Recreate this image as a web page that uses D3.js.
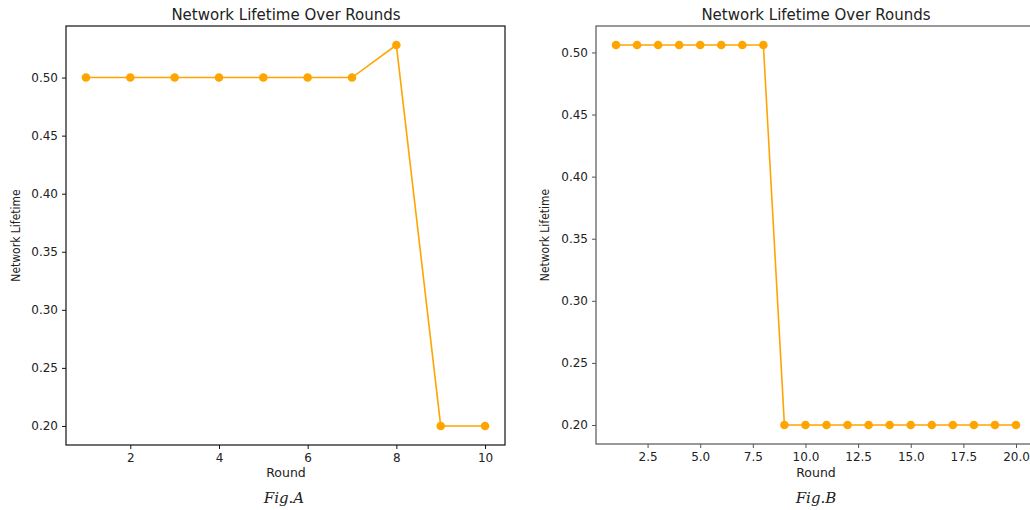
<!DOCTYPE html>
<html>
<head>
<meta charset="utf-8">
<script src="https://cdn.jsdelivr.net/npm/d3@7"></script>
<style>
  body { margin: 0; background: #fff; }
  text { font-family: "DejaVu Sans", sans-serif; fill: #222; }
</style>
</head>
<body>
<script>
// data
let roundsA = [1, 2, 3, 4, 5, 6, 7, 8, 9, 10];
let lifetimeA = [0.50, 0.50, 0.50, 0.50, 0.50, 0.50, 0.50, 0.528, 0.20, 0.20];
let roundsB = [1, 2, 3, 4, 5, 6, 7, 8, 9, 10, 11, 12, 13, 14, 15, 16, 17, 18, 19, 20];
let lifetimeB = [0.506, 0.506, 0.506, 0.506, 0.506, 0.506, 0.506, 0.506, 0.20, 0.20,
                 0.20, 0.20, 0.20, 0.20, 0.20, 0.20, 0.20, 0.20, 0.20, 0.20];
let yTicks = [0.20, 0.25, 0.30, 0.35, 0.40, 0.45, 0.50];
let xTicksA = [2, 4, 6, 8, 10];
let xTicksB = [2.5, 5.0, 7.5, 10.0, 12.5, 15.0, 17.5, 20.0];
let titles = ["Network Lifetime Over Rounds", "Network Lifetime Over Rounds"];
let captions = ["Fig.A", "Fig.B"];

var W = 1030, H = 510;
var svg = d3.select("body").append("svg").attr("width", W).attr("height", H);

// matplotlib-like 5% margins around data
let pad = (ext) => {
    let d = (ext[1] - ext[0]) * 0.05;
    return [ext[0] - d, ext[1] + d];
}

let drawPanel = (opt) => {
    let x = d3.scaleLinear().domain(pad(d3.extent(opt.xs))).range([opt.left, opt.right]);
    let y = d3.scaleLinear().domain(pad(d3.extent(opt.ys))).range([opt.bottom, opt.top]);

    let g = svg.append("g");

    // axes
    let xAxis = g.append("g").attr("transform", "translate(0," + opt.bottom + ")")
        .call(d3.axisBottom(x).tickValues(opt.xTicks).tickFormat(opt.xFmt).tickSize(4).tickPadding(4));
    let yAxis = g.append("g").attr("transform", "translate(" + opt.left + ",0)")
        .call(d3.axisLeft(y).tickValues(yTicks).tickFormat(d3.format(".2f")).tickSize(4).tickPadding(4));
    [xAxis, yAxis].forEach(a => {
        a.select(".domain").remove();
        a.selectAll("line").attr("stroke", opt.spine);
        a.selectAll("text").style("font-size", "12px").style("fill", "#222");
    });

    // frame
    g.append("rect")
        .attr("x", opt.left).attr("y", opt.top)
        .attr("width", opt.right - opt.left).attr("height", opt.bottom - opt.top)
        .attr("fill", "none").attr("stroke", opt.spine).attr("stroke-width", 1.2);

    // line + markers
    let pts = opt.xs.map((d, i) => [d, opt.ys[i]]);
    g.append("path").datum(pts)
        .attr("fill", "none").attr("stroke", "#FFA500").attr("stroke-width", 1.6)
        .attr("d", d3.line().x(d => x(d[0])).y(d => y(d[1])));
    g.selectAll(".dot").data(pts).enter().append("circle")
        .attr("cx", d => x(d[0])).attr("cy", d => y(d[1])).attr("r", 4.3)
        .attr("fill", "#FFA500");

    // labels
    g.append("text").attr("x", opt.titleX).attr("y", 20).attr("text-anchor", "middle")
        .style("font-size", "15px").text(opt.title);
    g.append("text").attr("x", opt.titleX).attr("y", 477).attr("text-anchor", "middle")
        .style("font-size", "12.5px").text("Round");
    g.append("text")
        .attr("transform", "translate(" + opt.yLabelX + "," + (opt.top + opt.bottom) / 2 + ") rotate(-90)")
        .attr("text-anchor", "middle")
        .style("font-size", "12px").style("font-family", "'Liberation Sans Narrow', 'DejaVu Sans Condensed', sans-serif")
        .text("Network Lifetime");
    g.append("text").attr("x", opt.capX).attr("y", 503).attr("text-anchor", "middle")
        .style("font-size", "15px").style("font-style", "italic")
        .style("font-family", "'DejaVu Serif', serif").text(opt.caption);
}

drawPanel({
    xs: roundsA, ys: lifetimeA, xTicks: xTicksA, xFmt: d3.format("d"),
    left: 66, right: 505, top: 26, bottom: 445, spine: "#111",
    title: titles[0], titleX: 286, yLabelX: 20, caption: captions[0], capX: 284
});
drawPanel({
    xs: roundsB, ys: lifetimeB, xTicks: xTicksB, xFmt: d3.format(".1f"),
    left: 596, right: 1036, top: 26, bottom: 444, spine: "#555",
    title: titles[1], titleX: 816, yLabelX: 549, caption: captions[1], capX: 816
});
</script>
</body>
</html>
